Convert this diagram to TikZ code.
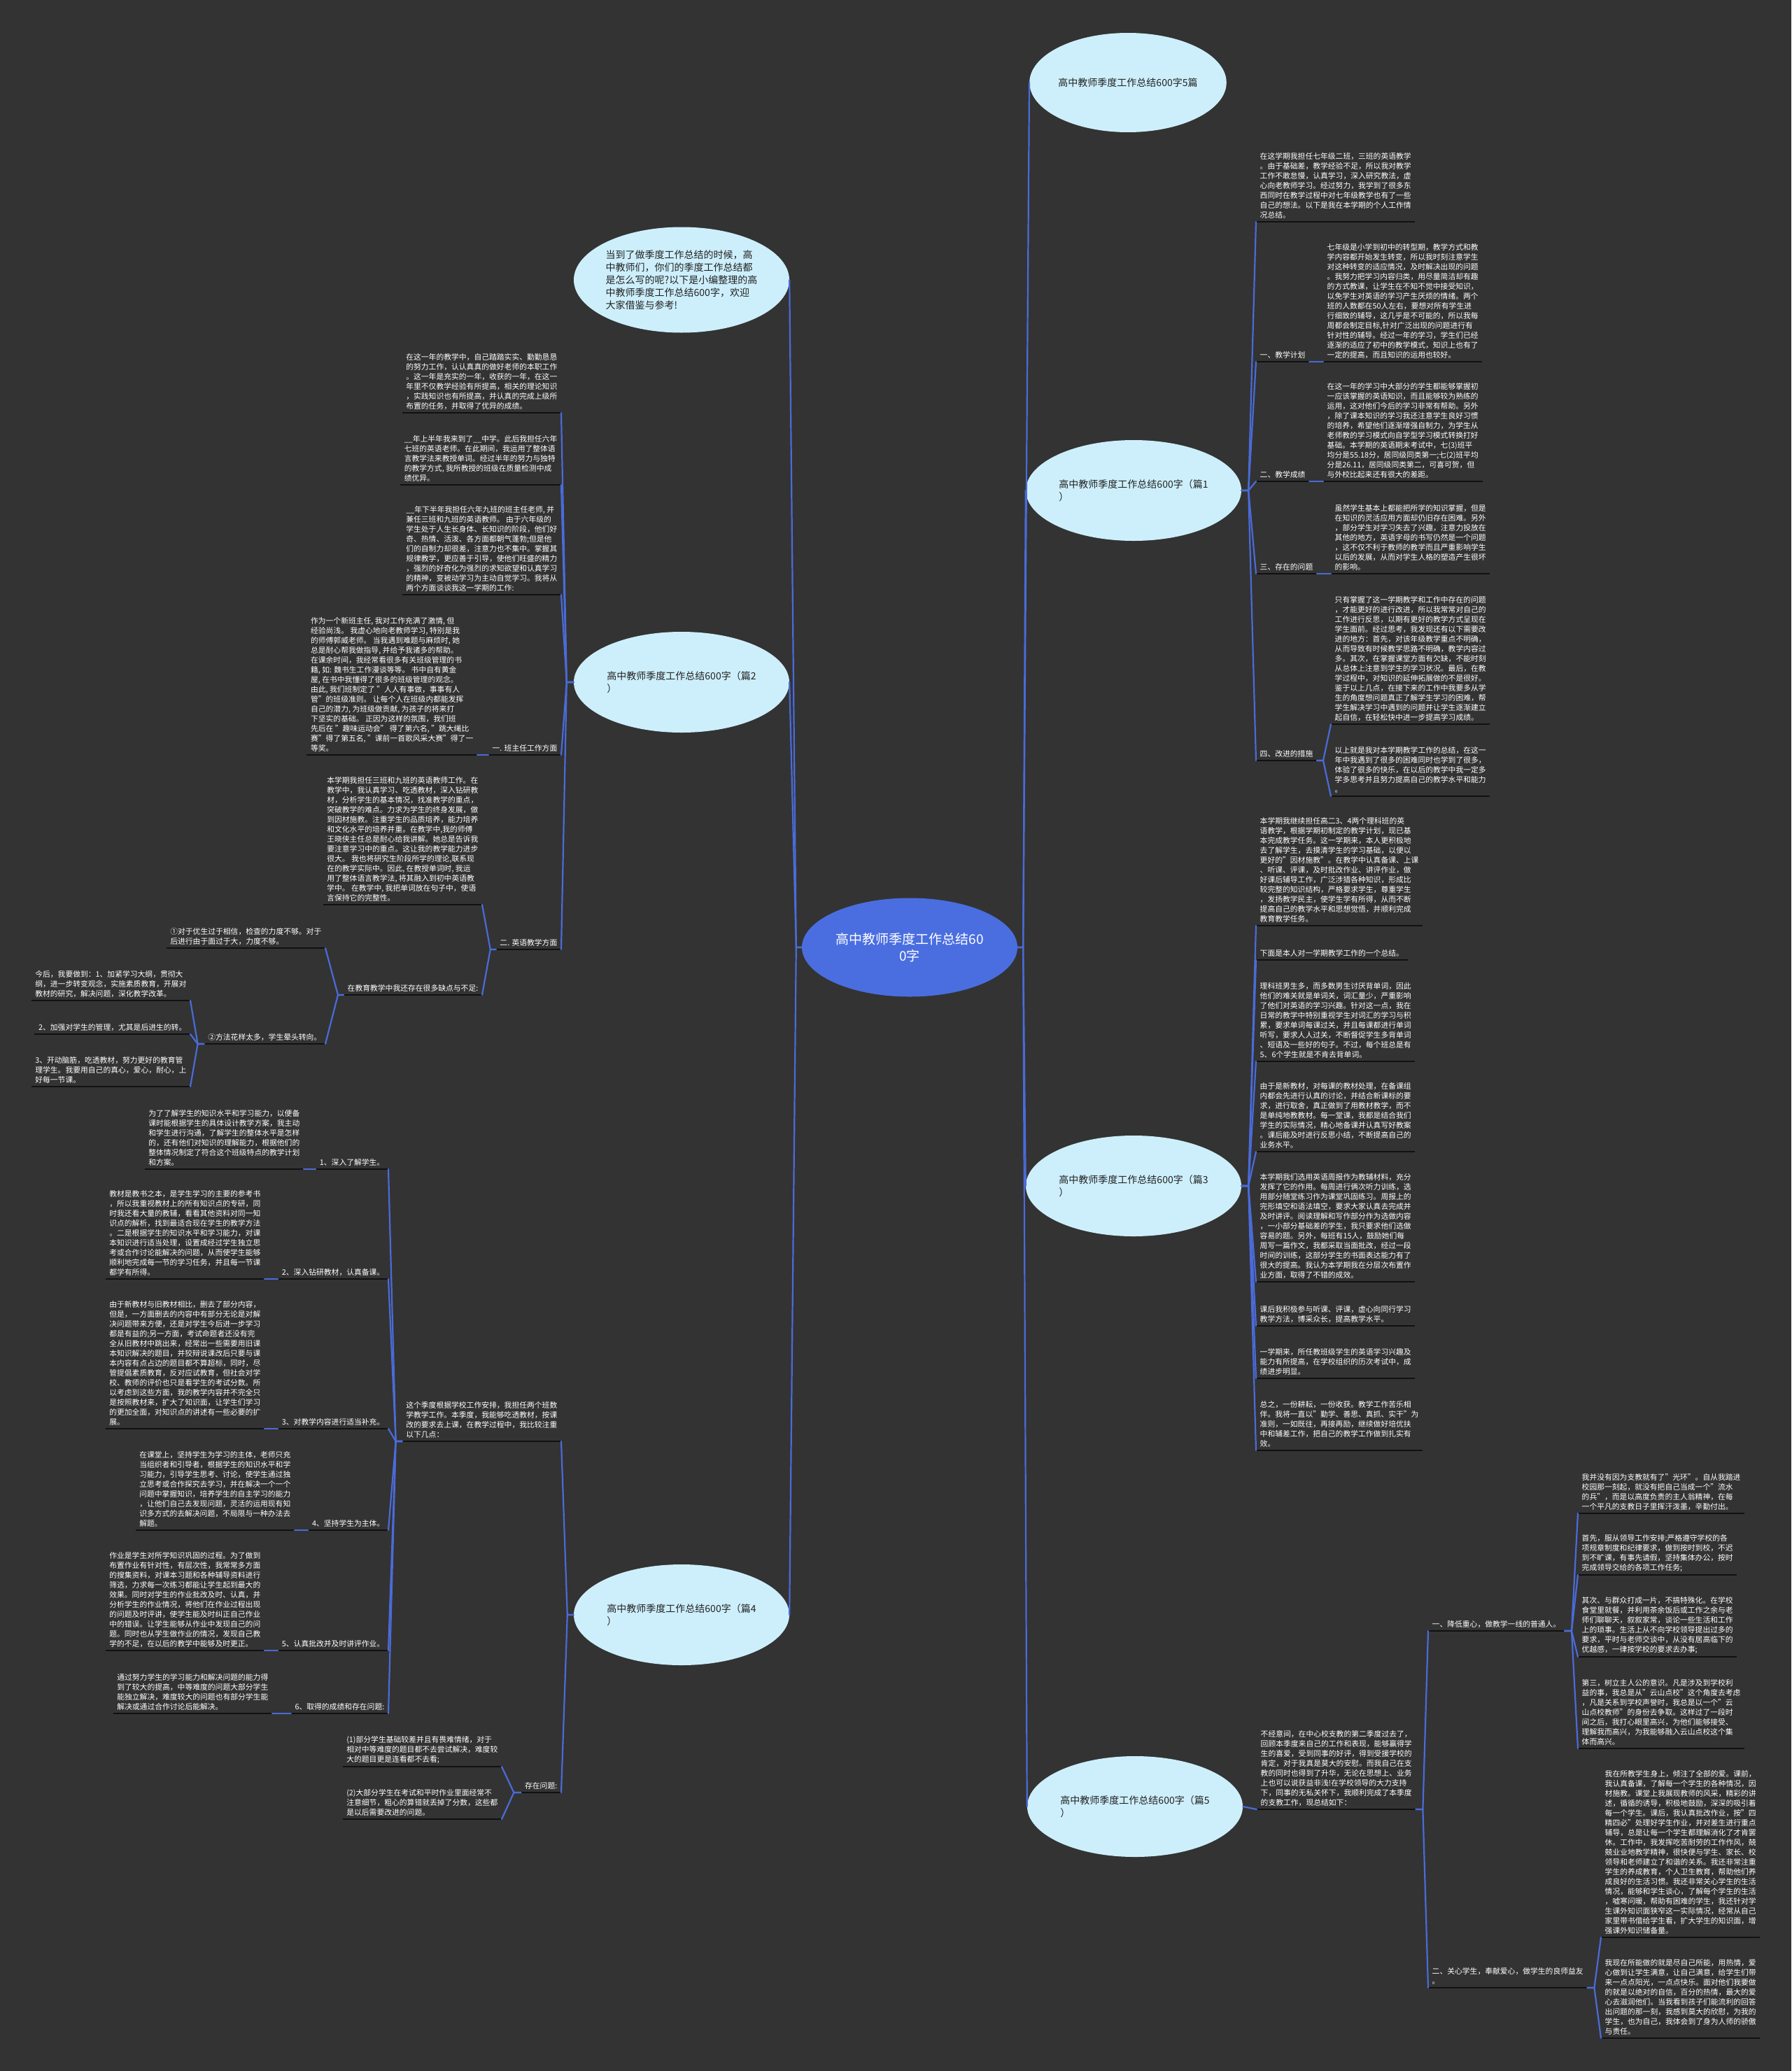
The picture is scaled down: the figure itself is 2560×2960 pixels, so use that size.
\documentclass[tikz,border=0pt]{standalone}
\usepackage{fontspec}
\setmainfont{Noto Sans CJK SC}
\usetikzlibrary{shapes.geometric}
\definecolor{bg}{HTML}{333333}
\definecolor{ellfill}{HTML}{CDEFFB}
\definecolor{cblue}{HTML}{4A6EE0}
\definecolor{lblue}{HTML}{4A6BD8}
\definecolor{uline}{HTML}{111111}
\definecolor{ink}{HTML}{222222}
\begin{document}
\begin{tikzpicture}[x=1pt,y=-1pt,
  ulc/.style={draw=uline,line width=2.4pt},
  conn/.style={draw=lblue,line width=2.2pt,line join=round,line cap=round},
  tb/.style={text=white,align=left,inner xsep=5.5pt,inner ysep=4.5pt,font=\fontsize{10.8pt}{14pt}\selectfont,
     append after command={(\tikzlastnode.south west) edge[ulc] (\tikzlastnode.south east)}},
  tr/.style={tb,anchor=south west},
  tl/.style={tb,anchor=south east},
  ell/.style={ellipse,fill=ellfill,text=ink,align=left,inner sep=0pt,minimum width=308pt,minimum height=144pt,font=\fontsize{14pt}{18pt}\selectfont},
  cell/.style={ellipse,fill=cblue,text=white,align=center,inner sep=0pt,minimum width=308pt,minimum height=141pt,font=\fontsize{19pt}{24pt}\selectfont}]
\useasboundingbox (0,0) rectangle (2560,2960);
\fill[bg] (0,0) rectangle (2560,2960);

% ---------- ellipses ----------
\node[cell] (c) at (1300,1354) {高中教师季度工作总结60\\0字};
\node[ell,minimum width=280pt,minimum height=142pt] (e0) at (1612,118) {高中教师季度工作总结600字5篇};
\node[ell] (e1) at (1620,701) {高中教师季度工作总结600字（篇1\\）};
\node[ell] (e3) at (1620,1695) {高中教师季度工作总结600字（篇3\\）};
\node[ell] (e5) at (1622,2582) {高中教师季度工作总结600字（篇5\\）};
\node[ell,minimum height=151pt] (ei) at (974,400) {当到了做季度工作总结的时候，高\\中教师们，你们的季度工作总结都\\是怎么写的呢?以下是小编整理的高\\中教师季度工作总结600字，欢迎\\大家借鉴与参考!};
\node[ell] (e2) at (974,975) {高中教师季度工作总结600字（篇2\\）};
\node[ell] (e4) at (974,2308) {高中教师季度工作总结600字（篇4\\）};

% ---------- 篇1 ----------
\node[tr] (t11) at (1795,317) {在这学期我担任七年级二班，三班的英语教学\\。由于基础差，教学经验不足，所以我对教学\\工作不敢怠慢，认真学习，深入研究教法，虚\\心向老教师学习。经过努力，我学到了很多东\\西同时在教学过程中对七年级教学也有了一些\\自己的想法。以下是我在本学期的个人工作情\\况总结。};
\node[tr] (l12) at (1795,517) {一、教学计划};
\node[tr] (t12) at (1891,517) {七年级是小学到初中的转型期，教学方式和教\\学内容都开始发生转变，所以我时刻注意学生\\对这种转变的适应情况，及时解决出现的问题\\。我努力把学习内容归类，用尽量简洁却有趣\\的方式教课，让学生在不知不觉中接受知识，\\以免学生对英语的学习产生厌烦的情绪。两个\\班的人数都在50人左右，要想对所有学生进\\行细致的辅导，这几乎是不可能的，所以我每\\周都会制定目标,针对广泛出现的问题进行有\\针对性的辅导。经过一年的学习，学生们已经\\逐渐的适应了初中的教学模式，知识上也有了\\一定的提高，而且知识的运用也较好。};
\node[tr] (l13) at (1795,688) {二、教学成绩};
\node[tr] (t13) at (1891,688) {在这一年的学习中大部分的学生都能够掌握初\\一应该掌握的英语知识，而且能够较为熟练的\\运用，这对他们今后的学习非常有帮助。另外\\，除了课本知识的学习我还注意学生良好习惯\\的培养，希望他们逐渐增强自制力，为学生从\\老师教的学习模式向自学型学习模式转换打好\\基础。本学期的英语期末考试中，七(3)班平\\均分是55.18分，居同级同类第一;七(2)班平均\\分是26.11，居同级同类第二，可喜可贺，但\\与外校比起来还有很大的差距。};
\node[tr] (l14) at (1795,820) {三、存在的问题};
\node[tr] (t14) at (1902,820) {虽然学生基本上都能把所学的知识掌握，但是\\在知识的灵活应用方面却仍旧存在困难。另外\\，部分学生对学习失去了兴趣，注意力投放在\\其他的地方，英语字母的书写仍然是一个问题\\，这不仅不利于教师的教学而且严重影响学生\\以后的发展，从而对学生人格的塑造产生很坏\\的影响。};
\node[tr] (l15) at (1795,1087) {四、改进的措施};
\node[tr] (t15a) at (1902,1035) {只有掌握了这一学期教学和工作中存在的问题\\，才能更好的进行改进，所以我常常对自己的\\工作进行反思，以期有更好的教学方式呈现在\\学生面前。经过思考，我发现还有以下需要改\\进的地方：首先，对该年级教学重点不明确，\\从而导致有时候教学思路不明确，教学内容过\\多。其次，在掌握课堂方面有欠缺，不能时刻\\从总体上注意到学生的学习状况。最后，在教\\学过程中，对知识的延伸拓展做的不是很好。\\鉴于以上几点，在接下来的工作中我要多从学\\生的角度想问题真正了解学生学习的困难，帮\\学生解决学习中遇到的问题并让学生逐渐建立\\起自信，在轻松快中进一步提高学习成绩。};
\node[tr] (t15b) at (1902,1138) {以上就是我对本学期教学工作的总结，在这一\\年中我遇到了很多的困难同时也学到了很多，\\体验了很多的快乐，在以后的教学中我一定多\\学多思考并且努力提高自己的教学水平和能力\\。};

% ---------- 篇3 ----------
\node[tr] (t31) at (1795,1323) {本学期我继续担任高二3、4两个理科班的英\\语教学，根据学期初制定的教学计划，现已基\\本完成教学任务。这一学期来，本人更积极地\\去了解学生，去摸清学生的学习基础，以便以\\更好的"因材施教"。在教学中认真备课、上课\\、听课、评课，及时批改作业、讲评作业，做\\好课后辅导工作，广泛涉猎各种知识，形成比\\较完整的知识结构，严格要求学生，尊重学生\\，发扬教学民主，使学生学有所得，从而不断\\提高自己的教学水平和思想觉悟，并顺利完成\\教育教学任务。};
\node[tr] (t32) at (1795,1372) {下面是本人对一学期教学工作的一个总结。};
\node[tr] (t33) at (1795,1517) {理科班男生多，而多数男生讨厌背单词，因此\\他们的难关就是单词关，词汇量少，严重影响\\了他们对英语的学习兴趣。针对这一点，我在\\日常的教学中特别重视学生对词汇的学习与积\\累，要求单词每课过关，并且每课都进行单词\\听写，要求人人过关，不断督促学生多背单词\\、短语及一些好的句子。不过，每个班总是有\\5、6个学生就是不肯去背单词。};
\node[tr] (t34) at (1795,1646) {由于是新教材，对每课的教材处理，在备课组\\内都会先进行认真的讨论，并结合新课标的要\\求，进行取舍，真正做到了用教材教学，而不\\是单纯地教教材。每一堂课，我都是结合我们\\学生的实际情况，精心地备课并认真写好教案\\。课后能及时进行反思小结，不断提高自己的\\业务水平。};
\node[tr] (t35) at (1795,1832) {本学期我们选用英语周报作为教辅材料，充分\\发挥了它的作用。每周进行俩次听力训练，选\\用部分随堂练习作为课堂巩固练习。周报上的\\完形填空和语法填空，要求大家认真去完成并\\及时讲评。阅读理解和写作部分作为选做内容\\，一小部分基础差的学生，我只要求他们选做\\容易的题。另外，每班有15人，鼓励她们每\\周写一篇作文，我都采取当面批改，经过一段\\时间的训练，这部分学生的书面表达能力有了\\很大的提高。我认为本学期我在分层次布置作\\业方面，取得了不错的成效。};
\node[tr] (t36) at (1795,1895) {课后我积极参与听课、评课，虚心向同行学习\\教学方法，博采众长，提高教学水平。};
\node[tr] (t37) at (1795,1970) {一学期来，所任教班级学生的英语学习兴趣及\\能力有所提高，在学校组织的历次考试中，成\\绩进步明显。};
\node[tr] (t38) at (1795,2073) {总之，一份耕耘，一份收获。教学工作苦乐相\\伴。我将一直以"勤学、善思、真抓、实干"为\\准则，一如既往，再接再励，继续做好培优扶\\中和辅差工作，把自己的教学工作做到扎实有\\效。};

% ---------- 篇5 ----------
\node[tr] (t51) at (1796,2586) {不经意间，在中心校支教的第二季度过去了，\\回顾本季度来自己的工作和表现，能够赢得学\\生的喜爱，受到同事的好评，得到受援学校的\\肯定，对于我真是莫大的安慰。而我自己在支\\教的同时也得到了升华，无论在思想上、业务\\上也可以说获益非浅!在学校领导的大力支持\\下，同事的无私关怀下，我顺利完成了本季度\\的支教工作，现总结如下：};
\node[tr] (l52) at (2041,2331) {一、降低重心，做教学一线的普通人。};
\node[tr] (l53) at (2041,2841) {二、关心学生，奉献爱心，做学生的良师益友\\。};
\node[tr] (t521) at (2255,2163) {我并没有因为支教就有了"光环"。自从我踏进\\校园那一刻起，就没有把自己当成一个"流水\\的兵"，而是以高度负责的主人翁精神，在每\\一个平凡的支教日子里挥汗泼墨，辛勤付出。};
\node[tr] (t522) at (2255,2251) {首先，服从领导工作安排;严格遵守学校的各\\项规章制度和纪律要求，做到按时到校，不迟\\到不旷课，有事先请假，坚持集体办公，按时\\完成领导交给的各项工作任务;};
\node[tr] (t523) at (2255,2368) {其次、与群众打成一片，不搞特殊化。在学校\\食堂里就餐，并利用茶余饭后或工作之余与老\\师们聊聊天，叙叙家常，谈论一些生活和工作\\上的琐事。生活上从不向学校领导提出过多的\\要求，平时与老师交谈中，从没有居高临下的\\优越感，一律按学校的要求去办事;};
\node[tr] (t524) at (2255,2499) {第三，树立主人公的意识。凡是涉及到学校利\\益的事，我总是从"云山点校"这个角度去考虑\\，凡是关系到学校声誉时，我总是以一个"云\\山点校教师"的身份去争取。这样过了一段时\\间之后，我打心眼里高兴，为他们能够接受、\\理解我而高兴，为我能够融入云山点校这个集\\体而高兴。};
\node[tr] (t531) at (2288,2769) {我在所教学生身上，倾注了全部的爱。课前，\\我认真备课，了解每一个学生的各种情况，因\\材施教。课堂上我展现教师的风采，精彩的讲\\述，循循的诱导，积极地鼓励，深深的吸引着\\每一个学生。课后，我认真批改作业，按"四\\精四必"处理好学生作业，并对差生进行重点\\辅导，总是让每一个学生都理解消化了才肯罢\\休。工作中，我发挥吃苦耐劳的工作作风，兢\\兢业业地教学精神，很快便与学生、家长、校\\领导和老师建立了和谐的关系。我还非常注重\\学生的养成教育，个人卫生教育，帮助他们养\\成良好的生活习惯。我还非常关心学生的生活\\情况，能够和学生谈心，了解每个学生的生活\\，嘘寒问暖，帮助有困难的学生，我还针对学\\生课外知识面狭窄这一实际情况，经常从自己\\家里带书借给学生看，扩大学生的知识面，增\\强课外知识储备量。};
\node[tr] (t532) at (2288,2913) {我现在所能做的就是尽自己所能，用热情，爱\\心做到让学生满意，让自己满意，给学生们带\\来一点点阳光，一点点快乐。面对他们我要做\\的就是以绝对的自信，百分的热情，最大的爱\\心去滋润他们。当我看到孩子们能流利的回答\\出问题的那一刻，我感到莫大的欣慰，为我的\\学生，也为自己，我体会到了身为人师的骄傲\\与责任。};

% ---------- 篇2 ----------
\node[tl] (t21) at (802,590) {在这一年的教学中，自己踏踏实实、勤勤恳恳\\的努力工作，认认真真的做好老师的本职工作\\。这一年是充实的一年，收获的一年，在这一\\年里不仅教学经验有所提高，相关的理论知识\\，实践知识也有所提高，并认真的完成上级所\\布置的任务，并取得了优异的成绩。};
\node[tl] (t22) at (802,693) {\_\_年上半年我来到了\_\_中学。此后我担任六年\\七班的英语老师。在此期间，我运用了整体语\\言教学法来教授单词。经过半年的努力与独特\\的教学方式, 我所教授的班级在质量检测中成\\绩优异。};
\node[tl] (t23) at (802,850) {\_\_年下半年我担任六年九班的班主任老师, 并\\兼任三班和九班的英语教师。 由于六年级的\\学生处于人生长身体、长知识的阶段，他们好\\奇、热情、活泼、各方面都朝气蓬勃;但是他\\们的自制力却很差，注意力也不集中。掌握其\\规律教学，更应善于引导，使他们旺盛的精力\\，强烈的好奇化为强烈的求知欲望和认真学习\\的精神，变被动学习为主动自觉学习。我将从\\两个方面谈谈我这一学期的工作:};
\node[tl] (l24) at (802,1079) {一. 班主任工作方面};
\node[tl] (t24a) at (682,1079) {作为一个新班主任, 我对工作充满了激情, 但\\经验尚浅。 我虚心地向老教师学习, 特别是我\\的师傅郭威老师。 当我遇到难题与麻烦时, 她\\总是耐心帮我做指导, 并给予我诸多的帮助。\\在课余时间，我经常看很多有关班级管理的书\\籍, 如: 魏书生工作漫谈等等。 书中自有黄金\\屋, 在书中我懂得了很多的班级管理的观念。\\由此, 我们班制定了 "人人有事做，事事有人\\管"的班级准则。 让每个人在班级内都能发挥\\自己的潜力, 为班级做贡献, 为孩子的将来打\\下坚实的基础。 正因为这样的氛围，我们班\\先后在 "趣味运动会" 得了第六名, "跳大绳比\\赛"得了第五名, "课前一首歌风采大赛"得了一\\等奖。};
\node[tl] (l25) at (802,1357) {二. 英语教学方面};
\node[tl] (t25a) at (689,1293) {本学期我担任三班和九班的英语教师工作。在\\教学中，我认真学习、吃透教材，深入钻研教\\材，分析学生的基本情况，找准教学的重点，\\突破教学的难点。力求为学生的终身发展，做\\到因材施教。注重学生的品质培养，能力培养\\和文化水平的培养并重。在教学中,我的师傅\\王晓侠主任总是耐心给我讲解。她总是告诉我\\要注意学习中的重点。这让我的教学能力进步\\很大。 我也将研究生阶段所学的理论,联系现\\在的教学实际中。因此, 在教授单词时, 我运\\用了整体语言教学法, 将其融入到初中英语教\\学中。 在教学中, 我把单词放在句子中，使语\\言保持它的完整性。};
\node[tl] (t26) at (689,1422) {在教育教学中我还存在很多缺点与不足:};
\node[tl] (t261) at (465,1355) {①对于优生过于相信，检查的力度不够。对于\\后进行由于面过于大，力度不够。};
\node[tl] (t262) at (465,1492) {②方法花样太多，学生晕头转向。};
\node[tl] (t2621) at (272,1430) {今后，我要做到：1、加紧学习大纲，贯彻大\\纲，进一步转变观念，实施素质教育，开展对\\教材的研究，解决问题，深化教学改革。};
\node[tl] (t2622) at (272,1478) {2、加强对学生的管理，尤其是后进生的转。};
\node[tl] (t2623) at (272,1553) {3、开动脑筋，吃透教材，努力更好的教育管\\理学生。我要用自己的真心，爱心，耐心，上\\好每一节课。};

% ---------- 篇4 ----------
\node[tl] (t41) at (802,2060) {这个季度根据学校工作安排，我担任两个班数\\学教学工作。本季度，我能够吃透教材，按课\\改的要求去上课，在教学过程中，我比较注重\\以下几点：};
\node[tl] (l41) at (555,1671) {1、深入了解学生。};
\node[tl] (l42) at (555,1828) {2、深入钻研教材，认真备课。};
\node[tl] (l43) at (555,2042) {3、对教学内容进行适当补充。};
\node[tl] (l44) at (555,2187) {4、坚持学生为主体。};
\node[tl] (l45) at (555,2359) {5、认真批改并及时讲评作业。};
\node[tl] (l46) at (555,2449) {6、取得的成绩和存在问题:};
\node[tl] (b41) at (434,1671) {为了了解学生的知识水平和学习能力，以便备\\课时能根据学生的具体设计教学方案，我主动\\和学生进行沟通，了解学生的整体水平是怎样\\的，还有他们对知识的理解能力，根据他们的\\整体情况制定了符合这个班级特点的教学计划\\和方案。};
\node[tl] (b42) at (378,1828) {教材是教书之本，是学生学习的主要的参考书\\，所以我重视教材上的所有知识点的专研，同\\时我还看大量的教辅，看看其他资料对同一知\\识点的解析，找到最适合现在学生的教学方法\\。二是根据学生的知识水平和学习能力，对课\\本知识进行适当处理，设置成经过学生独立思\\考或合作讨论能解决的问题，从而使学生能够\\顺利地完成每一节的学习任务，并且每一节课\\都学有所得。};
\node[tl] (b43) at (378,2042) {由于新教材与旧教材相比，删去了部分内容，\\但是，一方面删去的内容中有部分无论是对解\\决问题带来方便，还是对学生今后进一步学习\\都是有益的;另一方面，考试命题者还没有完\\全从旧教材中跳出来，经常出一些需要用旧课\\本知识解决的题目，并狡辩说课改后只要与课\\本内容有点占边的题目都不算超标，同时，尽\\管提倡素质教育，反对应试教育，但社会对学\\校、教师的评价也只是看学生的考试分数。所\\以考虑到这些方面，我的教学内容并不完全只\\是按照教材来，扩大了知识面，让学生们学习\\的更加全面，对知识点的讲述有一些必要的扩\\展。};
\node[tl] (b44) at (421,2187) {在课堂上，坚持学生为学习的主体，老师只充\\当组织者和引导者，根据学生的知识水平和学\\习能力，引导学生思考、讨论，使学生通过独\\立思考或合作探究去学习，并在解决一个一个\\问题中掌握知识，培养学生的自主学习的能力\\，让他们自己去发现问题，灵活的运用现有知\\识多方式的去解决问题，不局限与一种办法去\\解题。};
\node[tl] (b45) at (378,2359) {作业是学生对所学知识巩固的过程。为了做到\\布置作业有针对性，有层次性，我常常多方面\\的搜集资料，对课本习题和各种辅导资料进行\\筛选，力求每一次练习都能让学生起到最大的\\效果。同时对学生的作业批改及时、认真，并\\分析学生的作业情况，将他们在作业过程出现\\的问题及时评讲，使学生能及时纠正自己作业\\中的错误。让学生能够从作业中发现自己的问\\题。同时也从学生做作业的情况，发现自己教\\学的不足，在以后的教学中能够及时更正。};
\node[tl] (b46) at (389,2449) {通过努力学生的学习能力和解决问题的能力得\\到了较大的提高，中等难度的问题大部分学生\\能独立解决，难度较大的问题也有部分学生能\\解决或通过合作讨论后能解决。};
\node[tl] (t42) at (802,2562) {存在问题:};
\node[tl] (t421) at (717,2525) {(1)部分学生基础较差并且有畏难情绪，对于\\相对中等难度的题目都不去尝试解决，难度较\\大的题目更是连看都不去看;};
\node[tl] (t422) at (717,2600) {(2)大部分学生在考试和平时作业里面经常不\\注意细节，粗心的算错就丢掉了分数，这些都\\是以后需要改进的问题。};

% ---------- connectors ----------
\foreach \n in {e0,e1,e3,e5} \draw[conn] (c.east) -- ++(8,0) -- (\n.west);
\foreach \n in {ei,e2,e4} \draw[conn] (c.west) -- ++(-8,0) -- (\n.east);

\foreach \n in {t11,l12,l13,l14,l15} \draw[conn] (e1.east) -- ++(10,0) -- (\n.south west);
\draw[conn] (l12.south east) -- (t12.south west);
\draw[conn] (l13.south east) -- (t13.south west);
\draw[conn] (l14.south east) -- (t14.south west);
\foreach \n in {t15a,t15b} \draw[conn] (l15.south east) -- ++(9,0) -- (\n.south west);

\foreach \n in {t31,t32,t33,t34,t35,t36,t37,t38} \draw[conn] (e3.east) -- ++(10,0) -- (\n.south west);

\draw[conn] (e5.east) -- (t51.south west);
\foreach \n in {l52,l53} \draw[conn] (t51.south east) -- ++(10,0) -- (\n.south west);
\foreach \n in {t521,t522,t523,t524} \draw[conn] (l52.south east) -- ++(10,0) -- (\n.south west);
\foreach \n in {t531,t532} \draw[conn] (l53.south east) -- ++(10,0) -- (\n.south west);

\foreach \n in {t21,t22,t23,l24,l25} \draw[conn] (e2.west) -- ++(-10,0) -- (\n.south east);
\draw[conn] (l24.south west) -- (t24a.south east);
\foreach \n in {t25a,t26} \draw[conn] (l25.south west) -- ++(-8,0) -- (\n.south east);
\foreach \n in {t261,t262} \draw[conn] (t26.south west) -- ++(-8,0) -- (\n.south east);
\foreach \n in {t2621,t2622,t2623} \draw[conn] (t262.south west) -- ++(-9,0) -- (\n.south east);

\foreach \n in {t41,t42} \draw[conn] (e4.west) -- ++(-9,0) -- (\n.south east);
\foreach \n in {l41,l42,l43,l44,l45,l46} \draw[conn] (t41.south west) -- ++(-9,0) -- (\n.south east);
\draw[conn] (l41.south west) -- (b41.south east);
\draw[conn] (l42.south west) -- (b42.south east);
\draw[conn] (l43.south west) -- (b43.south east);
\draw[conn] (l44.south west) -- (b44.south east);
\draw[conn] (l45.south west) -- (b45.south east);
\draw[conn] (l46.south west) -- (b46.south east);
\foreach \n in {t421,t422} \draw[conn] (t42.south west) -- ++(-10,0) -- (\n.south east);
\end{tikzpicture}
\end{document}
